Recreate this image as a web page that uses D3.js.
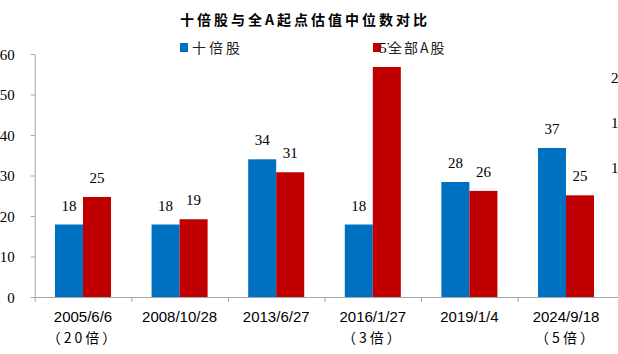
<!DOCTYPE html>
<html>
<head>
<meta charset="utf-8">
<script src="https://cdn.jsdelivr.net/npm/d3@7"></script>
<style>
  html, body { margin: 0; padding: 0; background: #fff; overflow: hidden; }
  svg { display: block; }
</style>
</head>
<body>
<div class="chart"></div>
<script>
// values
const DATES = ["2005/6/6", "2008/10/28", "2013/6/27", "2016/1/27", "2019/1/4", "2024/9/18"];
const MULTIPLES = ["（20倍）", "", "", "（3倍）", "", "（5倍）"];
const TEN_BAGGER = [17.9, 17.9, 34.0, 17.9, 28.4, 36.8];
const ALL_A = [24.7, 19.2, 30.8, 56.8, 26.2, 25.1];
const SERIES = ["十倍股", "全部A股"];
const Y_TICKS = [0, 10, 20, 30, 40, 50, 60];
const RIGHT_TICKS = ["20", "15", "10"];

const WIDTH = 618;
const HEIGHT = 354;
const BLUE = "#0070C0";
const RED = "#C00000";
const AXIS = "#A6A6A6";
const SERIF = "'Liberation Serif', 'DejaVu Serif', serif";
const CJK = "'Noto Sans CJK SC', 'Noto Sans', sans-serif";

const svg = d3.select(".chart").append("svg")
  .attr("width", WIDTH)
  .attr("height", HEIGHT);

const xScale = d3.scaleBand()
  .domain(DATES)
  .range([34.7, 34.7 + 96.6 * 6])
  .padding(0);

const yScale = d3.scaleLinear()
  .domain([0, 60])
  .range([297, 54]);

const colorScale = d3.scaleOrdinal().domain(SERIES).range([BLUE, RED]);

const barW = xScale.bandwidth() * 0.29;
const rows = DATES.map((d, i) => ({ date: d, values: [TEN_BAGGER[i], ALL_A[i]] }));

// y axis
const yAxis = svg.append("g")
  .attr("transform", `translate(${xScale.range()[0]}, 0)`)
  .call(d3.axisLeft(yScale).tickValues(Y_TICKS).tickSize(4).tickPadding(16).tickSizeOuter(0));
yAxis.select(".domain").attr("stroke", AXIS);
yAxis.selectAll(".tick line").attr("stroke", AXIS);
yAxis.selectAll(".tick text")
  .attr("fill", "#000")
  .attr("font-family", SERIF)
  .attr("font-size", 15)
  .attr("dy", "0.35em");

// x axis line with separators between categories
const xAxis = svg.append("g").attr("class", "x-axis");
xAxis.append("line")
  .attr("x1", xScale.range()[0]).attr("x2", WIDTH)
  .attr("y1", yScale(0) + 0.5).attr("y2", yScale(0) + 0.5)
  .attr("stroke", AXIS);
xAxis.selectAll(".sep")
  .data(DATES)
  .join("line")
  .attr("class", "sep")
  .attr("x1", d => xScale(d) + 0.5).attr("x2", d => xScale(d) + 0.5)
  .attr("y1", yScale(0)).attr("y2", yScale(0) + 5)
  .attr("stroke", AXIS);

// bars
const groups = svg.append("g").attr("class", "bars")
  .selectAll("g")
  .data(rows)
  .join("g")
  .attr("transform", d => `translate(${xScale(d.date) + xScale.bandwidth() / 2}, 0)`);

groups.selectAll("rect")
  .data(d => d.values.map((v, j) => ({ v, s: SERIES[j], j })))
  .join("rect")
  .attr("x", d => d.j === 0 ? -barW : 0)
  .attr("y", d => yScale(d.v))
  .attr("width", barW)
  .attr("height", d => yScale(0) - yScale(d.v))
  .attr("fill", d => colorScale(d.s));

// legend (drawn under the value labels, except the text box of the second entry)
const legendX = [180, 373];
const legend = svg.append("g").attr("class", "legend")
  .selectAll("g")
  .data(SERIES)
  .join("g")
  .attr("transform", (d, i) => `translate(${legendX[i]}, 43)`);
legend.append("rect")
  .attr("width", 8).attr("height", 9)
  .attr("fill", d => colorScale(d));

groups.selectAll("text.val")
  .data(d => d.values.map((v, j) => ({ v, j })))
  .join("text")
  .attr("class", "val")
  .attr("x", d => d.j === 0 ? -barW / 2 : barW / 2)
  .attr("y", d => yScale(d.v) - 14)
  .attr("text-anchor", "middle")
  .attr("font-family", SERIF)
  .attr("font-size", 15)
  .text(d => Math.round(d.v));

// legend text sits on top, the second one hides part of the "57" label
const legendText = svg.append("g")
  .selectAll("g")
  .data(SERIES)
  .join("g")
  .attr("transform", (d, i) => `translate(${legendX[i]}, 43)`);
legendText.filter((d, i) => i === 1).append("rect")
  .attr("x", 16).attr("y", -5)
  .attr("width", 64).attr("height", 18)
  .attr("fill", "#fff");
legendText.append("text")
  .attr("x", (d, i) => i === 0 ? 12 : 15)
  .attr("y", 10)
  .attr("font-family", CJK)
  .attr("font-size", 14)
  .attr("letter-spacing", (d, i) => i === 0 ? 3 : 2)
  .attr("fill", "#222")
  .text(d => d);

// category labels
const labels = svg.append("g").attr("class", "x-labels")
  .selectAll("g")
  .data(DATES.map((d, i) => ({ date: d, mult: MULTIPLES[i] })))
  .join("g")
  .attr("transform", d => `translate(${xScale(d.date) + xScale.bandwidth() / 2}, 0)`);
labels.append("text")
  .attr("y", 322)
  .attr("text-anchor", "middle")
  .attr("font-family", "'Liberation Sans', Arial, sans-serif")
  .attr("font-size", 15)
  .text(d => d.date);
labels.append("text")
  .attr("y", 343)
  .attr("text-anchor", "middle")
  .attr("font-family", CJK)
  .attr("font-size", 14)
  .attr("letter-spacing", 3)
  .text(d => d.mult);

// title
svg.append("text")
  .attr("x", 305)
  .attr("y", 25)
  .attr("text-anchor", "middle")
  .attr("font-family", CJK)
  .attr("font-weight", "bold")
  .attr("font-size", 14)
  .attr("letter-spacing", 3)
  .text("十倍股与全A起点估值中位数对比");

// clipped secondary labels at the right edge
svg.append("g").selectAll("text")
  .data(RIGHT_TICKS)
  .join("text")
  .attr("x", 611)
  .attr("y", (d, i) => 78 + i * 45)
  .attr("dy", "0.35em")
  .attr("font-family", SERIF)
  .attr("font-size", 15)
  .text(d => d);
</script>
</body>
</html>
